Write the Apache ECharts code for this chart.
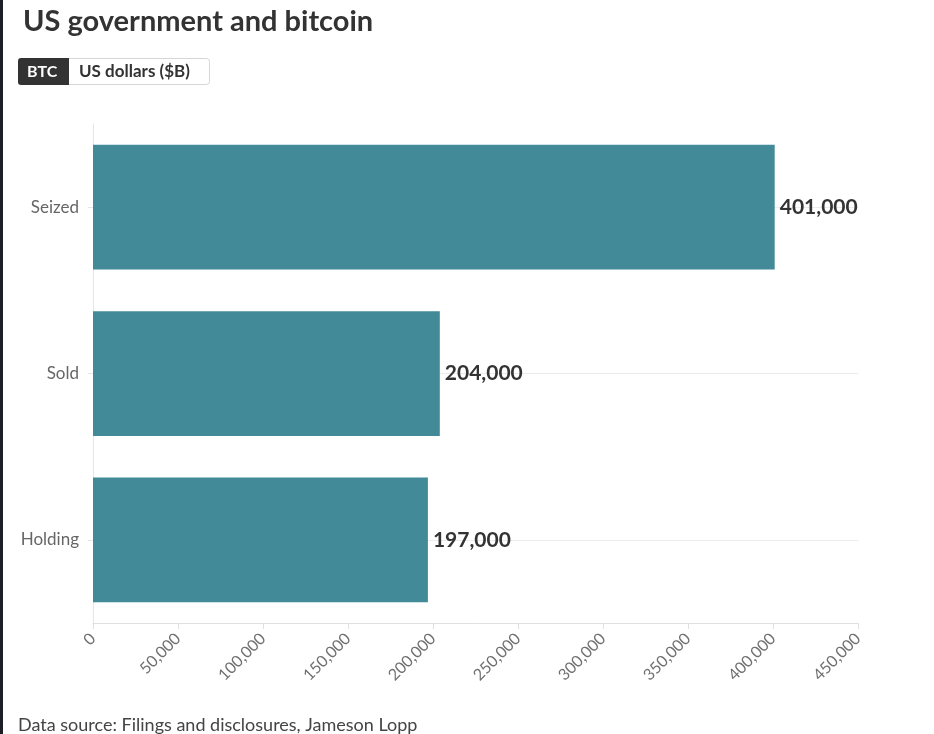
<!DOCTYPE html>
<html>
<head>
<meta charset="utf-8">
<script src="https://cdn.jsdelivr.net/npm/echarts@6/dist/echarts.min.js"></script>
<style>
html,body{margin:0;padding:0;background:#fff;}
#chart{width:934px;height:734px;}
</style>
</head>
<body>
<div id="chart"></div>
<script>
const categories = ['Seized', 'Sold', 'Holding'];
const btcValues = [401000, 204000, 197000];
const xTicks = [0, 50000, 100000, 150000, 200000, 250000, 300000, 350000, 400000, 450000];

const fmt = v => v.toLocaleString('en-US');
const font = 'Lato, "Open Sans", sans-serif';

const chart = echarts.init(document.getElementById('chart'));
chart.setOption({
  animation: false,
  backgroundColor: '#fff',
  textStyle: { fontFamily: font },
  title: {
    text: 'US government and bitcoin',
    left: 18, top: 2,
    textStyle: { fontFamily: font, fontSize: 29, fontWeight: 'bold', color: '#333' }
  },
  graphic: [
    { type: 'rect', left: 0, top: 0, shape: { width: 3, height: 734 }, style: { fill: '#1c1f26' } },
    { type: 'rect', left: 68, top: 58, shape: { width: 141, height: 26, r: [0,3,3,0] }, style: { fill: '#fff', stroke: '#d6d6d6', lineWidth: 1 } },
    { type: 'rect', left: 18, top: 58, shape: { width: 51, height: 27, r: [3,0,0,3] }, style: { fill: '#333' } },
    { type: 'text', x: 27, y: 71.5, style: { text: 'BTC', fill: '#fff', font: 'bold 16px ' + font, textVerticalAlign: 'middle' } },
    { type: 'text', x: 79, y: 71.5, style: { text: 'US dollars ($B)', fill: '#333', font: 'bold 17px ' + font, textVerticalAlign: 'middle' } },
    { type: 'text', x: 18, y: 725, style: { text: 'Data source: Filings and disclosures, Jameson Lopp', fill: '#444', font: '18px ' + font, textVerticalAlign: 'middle' } }
  ],
  grid: { left: 93, right: 76, top: 124, bottom: 111, containLabel: false },
  xAxis: {
    type: 'value', min: 0, max: 450000, interval: 50000,
    axisLine: { show: true, lineStyle: { color: '#e0e0e0' } },
    axisTick: { show: true, length: 6, lineStyle: { color: '#e0e0e0' } },
    splitLine: { show: false },
    axisLabel: { rotate: 45, color: '#707070', fontSize: 16, margin: 13, fontFamily: font, formatter: v => fmt(v) }
  },
  yAxis: {
    type: 'category', data: categories, inverse: true,
    axisLine: { show: true, lineStyle: { color: '#e6e6e6' } },
    axisTick: { show: true, alignWithLabel: true, length: 5, lineStyle: { color: '#e6e6e6' } },
    axisLabel: { color: '#666', fontSize: 17, margin: 14, fontFamily: font },
    splitLine: { show: false }
  },
  series: [
    {
      type: 'line', data: [], zlevel: 0, z: 1, silent: true,
      markLine: {
        silent: true, symbol: 'none', label: { show: false },
        lineStyle: { color: '#ececec', type: 'solid', width: 1 },
        data: categories.map(c => ({ yAxis: c }))
      }
    },
    {
      type: 'bar', data: btcValues, zlevel: 1, z: 3,
      barCategoryGap: '25%',
      itemStyle: { color: '#428a97' },
      label: {
        show: true, position: 'right', distance: 5,
        color: '#333', fontSize: 21, fontWeight: 'bold', fontFamily: font,
        formatter: p => fmt(p.value)
      }
    }
  ]
});
</script>
</body>
</html>
